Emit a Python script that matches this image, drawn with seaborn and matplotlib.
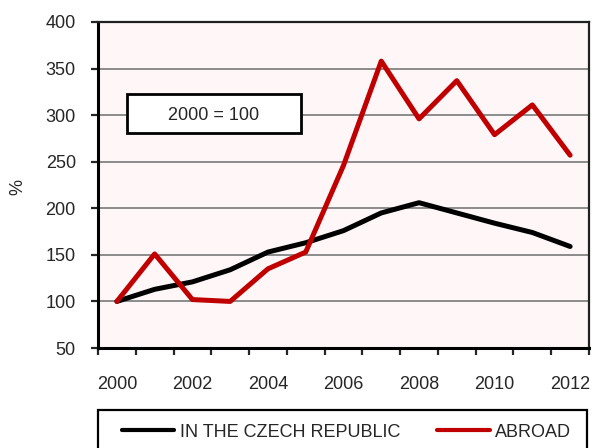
import numpy as np
import pandas as pd
import seaborn as sns
import matplotlib.pyplot as plt
from matplotlib.patches import Rectangle
from matplotlib.lines import Line2D

# dados
anos = list(range(2000, 2013))
tcheca = [100, 113, 121, 134, 153, 163, 176, 195, 206, 195, 184, 174, 159]
exterior = [100, 151, 102, 100, 135, 153, 246, 358, 296, 337, 279, 311, 257]
rotulos_x = ['2000', '2002', '2004', '2006', '2008', '2010', '2012']
ticks_y = [50, 100, 150, 200, 250, 300, 350, 400]


def main():
    sns.set_style("white")
    plt.rcParams['font.family'] = ['Liberation Sans', 'DejaVu Sans']
    fs = 13

    df = pd.DataFrame({
        'pos': list(range(len(anos))) * 2,
        'valor': tcheca + exterior,
        'serie': ['IN THE CZECH REPUBLIC'] * len(anos) + ['ABROAD'] * len(anos),
    })

    fig = plt.figure(figsize=(5.93, 4.48), dpi=100)
    ax = fig.add_axes([98 / 593, 1 - 348 / 448, (589 - 98) / 593, (348 - 22) / 448])
    ax.set_facecolor('#FFF7F7')

    sns.lineplot(data=df, x='pos', y='valor', hue='serie',
                 palette={'IN THE CZECH REPUBLIC': 'black', 'ABROAD': '#C00000'},
                 linewidth=3.6, ax=ax, legend=False, zorder=3)

    ax.set_xlim(-0.5, len(anos) - 0.5)
    ax.set_ylim(50, 400)
    ax.set_yticks(ticks_y)
    ax.set_yticklabels([str(v) for v in ticks_y], fontsize=fs)
    ax.yaxis.grid(True, color='#8c8c8c', linewidth=1.4)
    ax.set_axisbelow(True)

    # ticks nas divisas das categorias, rotulos a cada dois anos
    ax.set_xticks(np.arange(-0.5, len(anos), 1.0))
    ax.set_xticklabels([])
    ax.set_xticks(range(0, len(anos), 2), minor=True)
    ax.set_xticklabels(rotulos_x, minor=True, fontsize=fs)
    ax.tick_params(axis='x', which='minor', length=0, pad=20)
    ax.tick_params(axis='x', which='major', length=5, width=1.6, direction='out', bottom=True)
    ax.tick_params(axis='y', length=5, width=1.6, direction='out', left=True, pad=11)
    ax.set_xlabel('')
    ax.set_ylabel('')
    fig.text(18 / 593, 1 - 187 / 448, '%', rotation=90, ha='center', va='center', fontsize=fs)

    for lado in ['left', 'bottom']:
        ax.spines[lado].set_linewidth(2.2)
        ax.spines[lado].set_color('black')
    for lado in ['top', 'right']:
        ax.spines[lado].set_linewidth(1.6)
        ax.spines[lado].set_color('#202020')

    # caixa "2000 = 100"
    caixa = Rectangle((127 / 593, 1 - 133 / 448), (301 - 127) / 593, (133 - 94) / 448,
                      transform=fig.transFigure, facecolor='white', edgecolor='black',
                      linewidth=2, zorder=5)
    fig.patches.append(caixa)
    fig.text(214 / 593, 1 - 115 / 448, '2000 = 100', ha='center', va='center',
             fontsize=fs, zorder=6)

    # moldura da legenda (cortada embaixo como no original)
    moldura = Rectangle((98 / 593, 1 - 460 / 448), (587 - 98) / 593, 50 / 448,
                        transform=fig.transFigure, facecolor='white', edgecolor='black',
                        linewidth=1.6, zorder=1)
    fig.patches.append(moldura)

    handles = [Line2D([], [], color='black', linewidth=3),
               Line2D([], [], color='#C00000', linewidth=3)]
    fig.legend(handles, ['IN THE CZECH REPUBLIC', 'ABROAD'],
               loc='center left', bbox_to_anchor=(122 / 593, 1 - 432 / 448, (571 - 122) / 593, 0),
               mode='expand', ncol=2, fontsize=fs, frameon=False,
               handlelength=2.9, handletextpad=0.3, columnspacing=2,
               borderpad=0, borderaxespad=0)

    fig.savefig('out.png', dpi=100)


if __name__ == "__main__":
    main()
